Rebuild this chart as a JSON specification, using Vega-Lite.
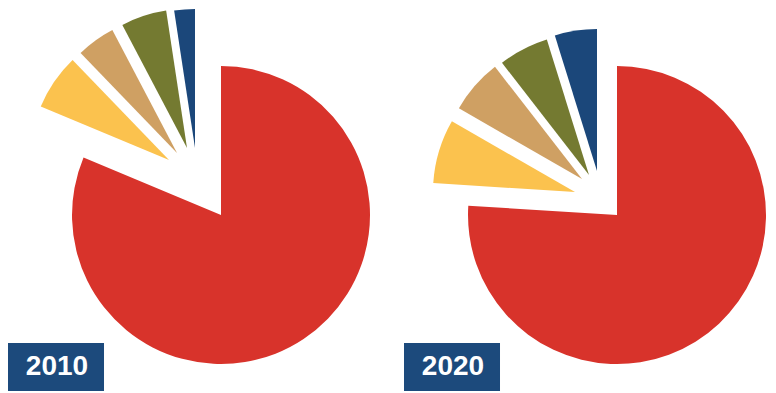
{
  "$schema": "https://vega.github.io/schema/vega-lite/v6.json",
  "width": 776,
  "height": 393,
  "padding": 0,
  "autosize": {"type": "none"},
  "background": "white",
  "config": {"view": {"stroke": null}},
  "datasets": {
    "shares": [
      {"year": 2010, "segment": "Segment 1", "rank": 1, "share": 81.3},
      {"year": 2010, "segment": "Segment 2", "rank": 2, "share": 6.5},
      {"year": 2010, "segment": "Segment 3", "rank": 3, "share": 4.5},
      {"year": 2010, "segment": "Segment 4", "rank": 4, "share": 5.3},
      {"year": 2010, "segment": "Segment 5", "rank": 5, "share": 2.4},
      {"year": 2020, "segment": "Segment 1", "rank": 1, "share": 76.0},
      {"year": 2020, "segment": "Segment 2", "rank": 2, "share": 7.3},
      {"year": 2020, "segment": "Segment 3", "rank": 3, "share": 6.2},
      {"year": 2020, "segment": "Segment 4", "rank": 4, "share": 5.7},
      {"year": 2020, "segment": "Segment 5", "rank": 5, "share": 4.8}
    ],
    "years": [
      {"year": 2010},
      {"year": 2020}
    ]
  },
  "layer": [
    {
      "data": {"name": "years"},
      "mark": {"type": "rect", "color": "#1c4a7c", "xOffset": -213, "x2Offset": -117, "yOffset": 128, "y2Offset": 176},
      "encoding": {
        "x": {"field": "year", "type": "quantitative", "scale": {"domain": [2004.419, 2024.015], "nice": false, "zero": false}, "axis": null},
        "x2": {"field": "year"},
        "y": {"datum": 0, "type": "quantitative", "scale": {"domain": [-1, 1.208], "nice": false, "zero": false}, "axis": null},
        "y2": {"datum": 0}
      }
    },
    {
      "data": {"name": "years"},
      "mark": {"type": "text", "dx": -164, "dy": 152, "fontSize": 28, "fontWeight": "bold", "font": "Liberation Sans", "color": "white", "align": "center", "baseline": "middle"},
      "encoding": {
        "x": {"field": "year", "type": "quantitative"},
        "y": {"datum": 0, "type": "quantitative"},
        "text": {"field": "year", "type": "nominal"}
      }
    },
    {
      "data": {"name": "shares"},
      "transform": [
        {"window": [{"op": "sum", "field": "share", "as": "s1"}], "groupby": ["year"], "sort": [{"field": "rank"}], "frame": [null, 0]},
        {"calculate": "datum.s1 - datum.share", "as": "s0"}
      ],
      "mark": {
        "type": "arc",
        "radius": {"expr": "datum.rank == 1 ? 149 : (datum.year == 2010 ? 139 : 142)"},
        "xOffset": {"expr": "scale('x', datum.year) - width / 2 + (datum.year == 2010 ? [0, -52, -44, -34, -26] : [0, -42, -35, -28, -20])[datum.rank - 1]"},
        "yOffset": {"expr": "scale('y', 0) - height / 2 + (datum.year == 2010 ? [0, -55, -62, -67, -67] : [0, -23, -36, -40, -44])[datum.rank - 1]"}
      },
      "encoding": {
        "theta": {"field": "s0", "type": "quantitative", "stack": null, "scale": {"domain": [0, 100], "zero": false, "nice": false}},
        "theta2": {"field": "s1"},
        "color": {
          "field": "segment",
          "type": "nominal",
          "scale": {
            "domain": ["Segment 1", "Segment 2", "Segment 3", "Segment 4", "Segment 5"],
            "range": ["#d8332b", "#fbc24e", "#cfa063", "#747a31", "#1b477a"]
          },
          "legend": null
        }
      }
    }
  ]
}
